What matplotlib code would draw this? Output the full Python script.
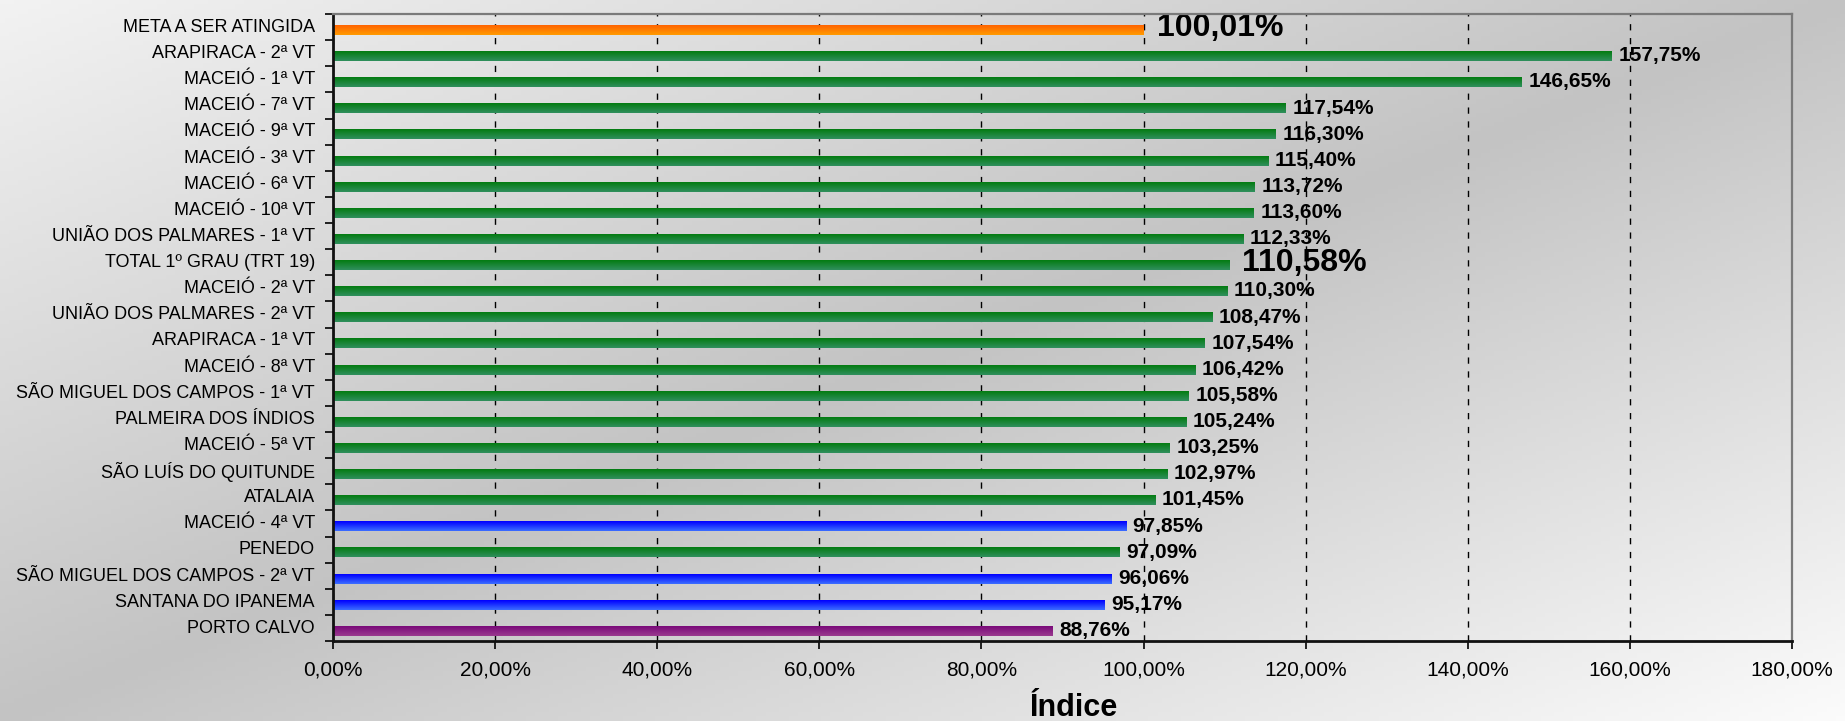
import numpy as np
import matplotlib
matplotlib.use("Agg")
import matplotlib.pyplot as plt
from matplotlib.colors import to_rgb

# categories, top to bottom
varas = ["META A SER ATINGIDA", "ARAPIRACA - 2ª VT", "MACEIÓ - 1ª VT", "MACEIÓ - 7ª VT",
         "MACEIÓ - 9ª VT", "MACEIÓ - 3ª VT", "MACEIÓ - 6ª VT", "MACEIÓ - 10ª VT",
         "UNIÃO DOS PALMARES - 1ª VT", "TOTAL 1º GRAU (TRT 19)", "MACEIÓ - 2ª VT",
         "UNIÃO DOS PALMARES - 2ª VT", "ARAPIRACA - 1ª VT", "MACEIÓ - 8ª VT",
         "SÃO MIGUEL DOS CAMPOS - 1ª VT", "PALMEIRA DOS ÍNDIOS", "MACEIÓ - 5ª VT",
         "SÃO LUÍS DO QUITUNDE", "ATALAIA", "MACEIÓ - 4ª VT", "PENEDO",
         "SÃO MIGUEL DOS CAMPOS - 2ª VT", "SANTANA DO IPANEMA", "PORTO CALVO"]
indice = [100.01, 157.75, 146.65, 117.54, 116.30, 115.40, 113.72, 113.60, 112.33, 110.58,
          110.30, 108.47, 107.54, 106.42, 105.58, 105.24, 103.25, 102.97, 101.45, 97.85,
          97.09, 96.06, 95.17, 88.76]
xticks = [0, 20, 40, 60, 80, 100, 120, 140, 160, 180]
destaque = ["META A SER ATINGIDA", "TOTAL 1º GRAU (TRT 19)"]

# bar colour group per category
grupo = ["meta"] + ["verde"] * 18 + ["azul", "verde", "azul", "azul", "roxo"]
cores = {"meta": ("#ff6400", "#ff9a00"),
         "verde": ("#047c12", "#2f8f5c"),
         "azul": ("#0000ff", "#3a6cff"),
         "roxo": ("#7a0a7a", "#9a3a8e")}

plt.rcParams['font.family'] = ['Liberation Sans', 'DejaVu Sans']

W, H = 1845, 721
fig = plt.figure(figsize=(W / 100, H / 100), dpi=100)

# background gradient (light top-left, grey diagonal, light bottom-right)
bg = fig.add_axes([0, 0, 1, 1], zorder=-5)
gx, gy = np.meshgrid(np.linspace(0, 1, 400), np.linspace(0, 1, 160))
t = (gx + gy) / 2
g = np.interp(t, [0, 0.5, 1], [0.95, 0.765, 0.985])
bg.imshow(np.dstack([g, g, g]), aspect="auto", extent=(0, 1, 0, 1), origin="upper")
bg.axis("off")

ax = fig.add_axes([333 / W, 1 - 641 / H, (1792 - 333) / W, (641 - 14) / H])
ax.patch.set_alpha(0)

pos = np.arange(len(varas))
h = 0.36
off = 0.12
for i, (nome, v, gr) in enumerate(zip(varas, indice, grupo)):
    c1, c2 = (np.array(to_rgb(c)) for c in cores[gr])
    s = np.linspace(0, 1, 20)[:, None]
    grad = (c1 * (1 - s) + c2 * s)[:, None, :]
    y = pos[i] + off
    ax.imshow(grad, aspect="auto", extent=(0, v, y + h / 2, y - h / 2),
              origin="upper", zorder=3, interpolation="bilinear")
    txt = f"{v:.2f}%".replace(".", ",")
    if nome in destaque:
        ax.text(v + 1.6, y - 0.08, txt, fontsize=23, fontweight="bold",
                va="center", ha="left", zorder=4)
    else:
        ax.text(v + 0.8, y - 0.02, txt, fontsize=15, fontweight="bold",
                va="center", ha="left", zorder=4)

ax.set_xlim(0, 180)
ax.set_ylim(len(varas) - 0.5, -0.5)

ax.set_xticks(xticks)
ax.set_xticklabels([f"{x:.2f}%".replace(".", ",") for x in xticks], fontsize=15)
ax.tick_params(axis="x", length=6, width=1.2, pad=8, direction="out")

ax.set_yticks(pos - 0.06)
ax.set_yticklabels(varas, fontsize=13)
ax.tick_params(axis="y", which="major", length=0, pad=13)
ax.set_yticks(np.arange(-0.5, len(varas), 1), minor=True)
ax.tick_params(axis="y", which="minor", length=6, width=1.2, direction="out")

ax.xaxis.grid(True, color="black", linewidth=1, linestyle=(0, (4.5, 5.5)), zorder=1)
ax.set_axisbelow(True)

for sp in ["left", "bottom"]:
    ax.spines[sp].set_linewidth(2)
    ax.spines[sp].set_color("#111111")
for sp in ["top", "right"]:
    ax.spines[sp].set_linewidth(1.6)
    ax.spines[sp].set_color("#7a7a7a")
for sp in ax.spines.values():
    sp.set_zorder(5)

fig.text(1074 / W, 1 - 693 / H, "Índice", fontsize=22, fontweight="bold",
         ha="center", va="top")

fig.savefig("out.png", dpi=100)
